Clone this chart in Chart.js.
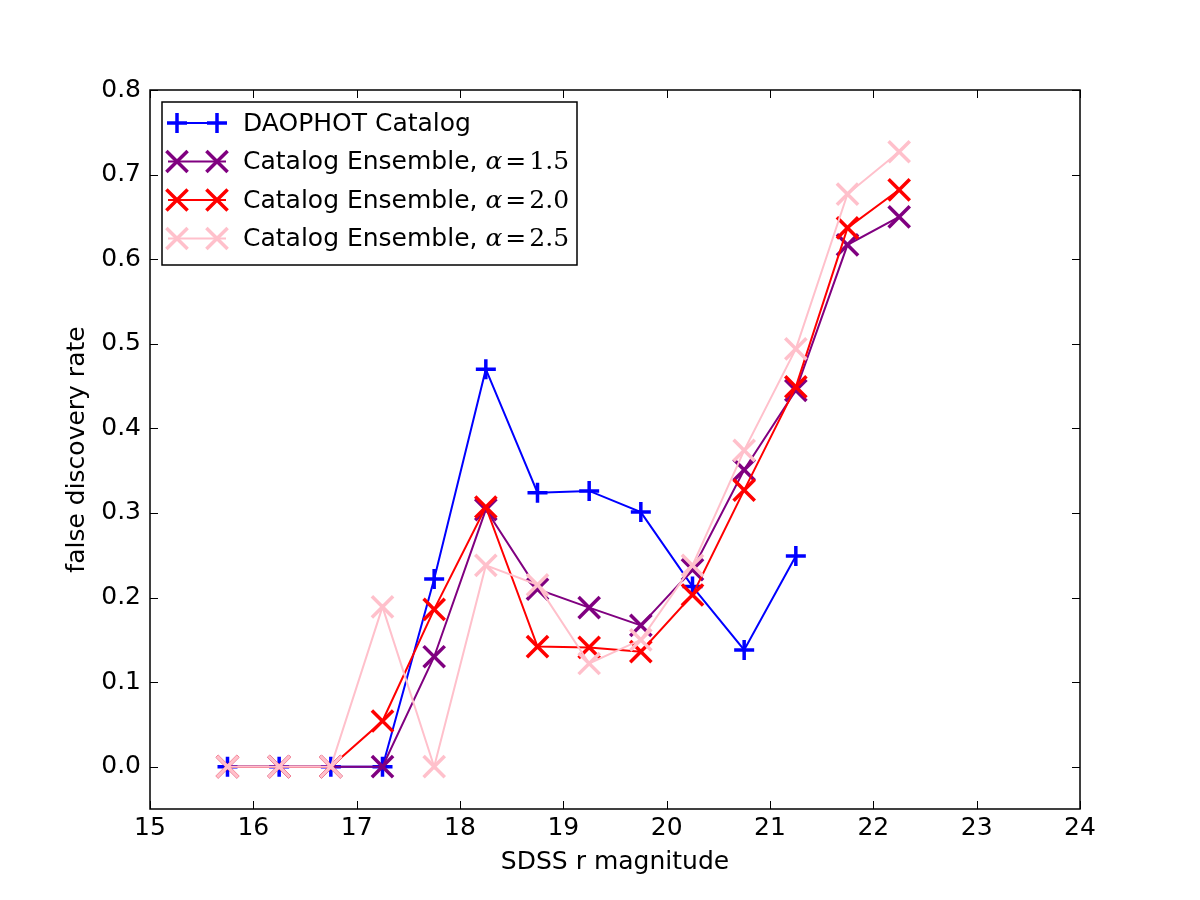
<!DOCTYPE html>
<html>
<head>
<meta charset="utf-8">
<script src="https://cdn.jsdelivr.net/npm/chart.js@4.4.1/dist/chart.umd.min.js"></script>
<style>
  html, body { margin: 0; padding: 0; background: #fff; }
  #wrap { width: 1200px; height: 900px; }
</style>
</head>
<body>
<div id="wrap"><canvas id="chart" width="1200" height="900"></canvas></div>
<script>
// Data (x = bin centre in SDSS r magnitude)
const magnitudes = [15.75, 16.25, 16.75, 17.25, 17.75, 18.25, 18.75, 19.25, 19.75, 20.25, 20.75, 21.25, 21.75, 22.25];
const daophot  = [0, 0, 0, 0, 0.222, 0.470, 0.324, 0.326, 0.301, 0.213, 0.138, 0.249, null, null];
const alpha15  = [0, 0, 0, 0, 0.130, 0.304, 0.210, 0.188, 0.167, 0.233, 0.351, 0.445, 0.617, 0.650];
const alpha20  = [0, 0, 0, 0.054, 0.186, 0.307, 0.142, 0.141, 0.136, 0.203, 0.327, 0.449, 0.637, 0.682];
const alpha25  = [0, 0, 0, 0.189, 0, 0.238, 0.215, 0.122, 0.150, 0.238, 0.374, 0.494, 0.677, 0.727];

const seriesNames = ['DAOPHOT Catalog', 'Catalog Ensemble, ', 'Catalog Ensemble, ', 'Catalog Ensemble, '];
const alphaLabels = [null, '1.5', '2.0', '2.5'];
const xTicks = [15, 16, 17, 18, 19, 20, 21, 22, 23, 24];
const yTicks = [0.0, 0.1, 0.2, 0.3, 0.4, 0.5, 0.6, 0.7, 0.8];

const toPoints = ys => magnitudes.map((x, i) => ({ x: x, y: ys[i] }));

function makeSet(label, ys, color, style, radius, order) {
  return {
    label: label,
    data: toPoints(ys),
    borderColor: color,
    backgroundColor: color,
    borderWidth: 2,
    pointStyle: style,
    pointRadius: radius,
    pointHoverRadius: radius,
    pointBorderWidth: 3.5,
    pointBorderColor: color,
    tension: 0,
    fill: false,
    spanGaps: false,
    order: order
  };
}

// Inward ticks on all four sides plus the frame
const frameTicks = {
  id: 'frameTicks',
  afterDatasetsDraw(chart) {
    const { ctx, chartArea: a, scales: { x, y } } = chart;
    ctx.save();
    ctx.strokeStyle = '#000';
    ctx.lineWidth = 1;
    const tl = 8;
    xTicks.forEach(v => {
      const px = Math.round(x.getPixelForValue(v)) + 0.5;
      ctx.beginPath();
      ctx.moveTo(px, a.bottom); ctx.lineTo(px, a.bottom - tl);
      ctx.moveTo(px, a.top); ctx.lineTo(px, a.top + tl);
      ctx.stroke();
    });
    yTicks.forEach(v => {
      const py = Math.round(y.getPixelForValue(v)) + 0.5;
      ctx.beginPath();
      ctx.moveTo(a.left, py); ctx.lineTo(a.left + tl, py);
      ctx.moveTo(a.right, py); ctx.lineTo(a.right - tl, py);
      ctx.stroke();
    });
    ctx.lineWidth = 1.5;
    ctx.strokeRect(a.left, a.top, a.right - a.left, a.bottom - a.top);
    ctx.restore();
  }
};

function drawMarker(ctx, style, cx, cy, r) {
  ctx.beginPath();
  if (style === 'cross') {
    ctx.moveTo(cx - r, cy); ctx.lineTo(cx + r, cy);
    ctx.moveTo(cx, cy - r); ctx.lineTo(cx, cy + r);
  } else {
    const d = r * Math.SQRT1_2;
    ctx.moveTo(cx - d, cy - d); ctx.lineTo(cx + d, cy + d);
    ctx.moveTo(cx + d, cy - d); ctx.lineTo(cx - d, cy + d);
  }
  ctx.stroke();
}

// Matplotlib-style legend box in the upper left
const boxLegend = {
  id: 'boxLegend',
  afterDraw(chart) {
    const ctx = chart.ctx;
    const a = chart.chartArea;
    const bx = a.left + 12, by = a.top + 12, bw = 415, bh = 163;
    ctx.save();
    ctx.fillStyle = '#fff';
    ctx.fillRect(bx, by, bw, bh);
    ctx.strokeStyle = '#000';
    ctx.lineWidth = 1.5;
    ctx.strokeRect(bx, by, bw, bh);
    chart.data.datasets.forEach((ds, i) => {
      const cy = by + 21 + i * 38.5;
      ctx.strokeStyle = ds.borderColor;
      ctx.lineWidth = 2;
      ctx.beginPath();
      ctx.moveTo(bx + 6, cy); ctx.lineTo(bx + 64, cy);
      ctx.stroke();
      ctx.lineWidth = 3.5;
      drawMarker(ctx, ds.pointStyle, bx + 15, cy, ds.pointRadius);
      drawMarker(ctx, ds.pointStyle, bx + 55, cy, ds.pointRadius);
      ctx.fillStyle = '#000';
      ctx.textBaseline = 'middle';
      ctx.font = '25px "DejaVu Sans"';
      let tx = bx + 81;
      ctx.fillText(seriesNames[i], tx, cy + 1);
      if (alphaLabels[i]) {
        tx += ctx.measureText(seriesNames[i]).width;
        ctx.font = 'italic 25px "DejaVu Serif"';
        ctx.fillText('\u03b1', tx, cy + 1);
        tx += ctx.measureText('\u03b1').width + 3;
        ctx.font = '25px "DejaVu Serif"';
        ctx.fillText('=', tx, cy + 1);
        tx += ctx.measureText('=').width + 3;
        ctx.fillText(alphaLabels[i], tx, cy + 1);
      }
    });
    ctx.restore();
  }
};

Chart.defaults.font.family = '"DejaVu Sans", sans-serif';
Chart.defaults.font.size = 25;
Chart.defaults.color = '#000';

new Chart(document.getElementById('chart'), {
  type: 'line',
  data: {
    datasets: [
      makeSet('DAOPHOT Catalog', daophot, '#0000ff', 'cross', 10, 3),
      makeSet('Catalog Ensemble, alpha=1.5', alpha15, '#800080', 'crossRot', 15, 2),
      makeSet('Catalog Ensemble, alpha=2.0', alpha20, '#ff0000', 'crossRot', 15, 1),
      makeSet('Catalog Ensemble, alpha=2.5', alpha25, '#ffc0cb', 'crossRot', 15, 0)
    ]
  },
  options: {
    responsive: false,
    animation: false,
    devicePixelRatio: 1,
    layout: { padding: { left: 0, top: 90, right: 120, bottom: 0 } },
    plugins: { legend: { display: false }, tooltip: { enabled: false } },
    scales: {
      x: {
        type: 'linear',
        min: 15, max: 24,
        grid: { display: false, drawTicks: false },
        border: { display: false },
        afterBuildTicks: s => { s.ticks = xTicks.map(v => ({ value: v })); },
        afterFit: s => { s.height = 91; },
        ticks: { padding: 4, callback: v => String(v) },
        title: { display: true, text: 'SDSS r magnitude', padding: { top: 0, bottom: 23 }, font: { size: 25 } }
      },
      y: {
        type: 'linear',
        min: -0.05, max: 0.8,
        grid: { display: false, drawTicks: false },
        border: { display: false },
        afterBuildTicks: s => { s.ticks = yTicks.map(v => ({ value: v })); },
        afterFit: s => { s.width = 150; },
        ticks: { padding: 9, callback: v => v.toFixed(1) },
        title: { display: true, text: 'false discovery rate', padding: { top: 62, bottom: 0 }, font: { size: 25 } }
      }
    }
  },
  plugins: [frameTicks, boxLegend]
});
</script>
</body>
</html>
